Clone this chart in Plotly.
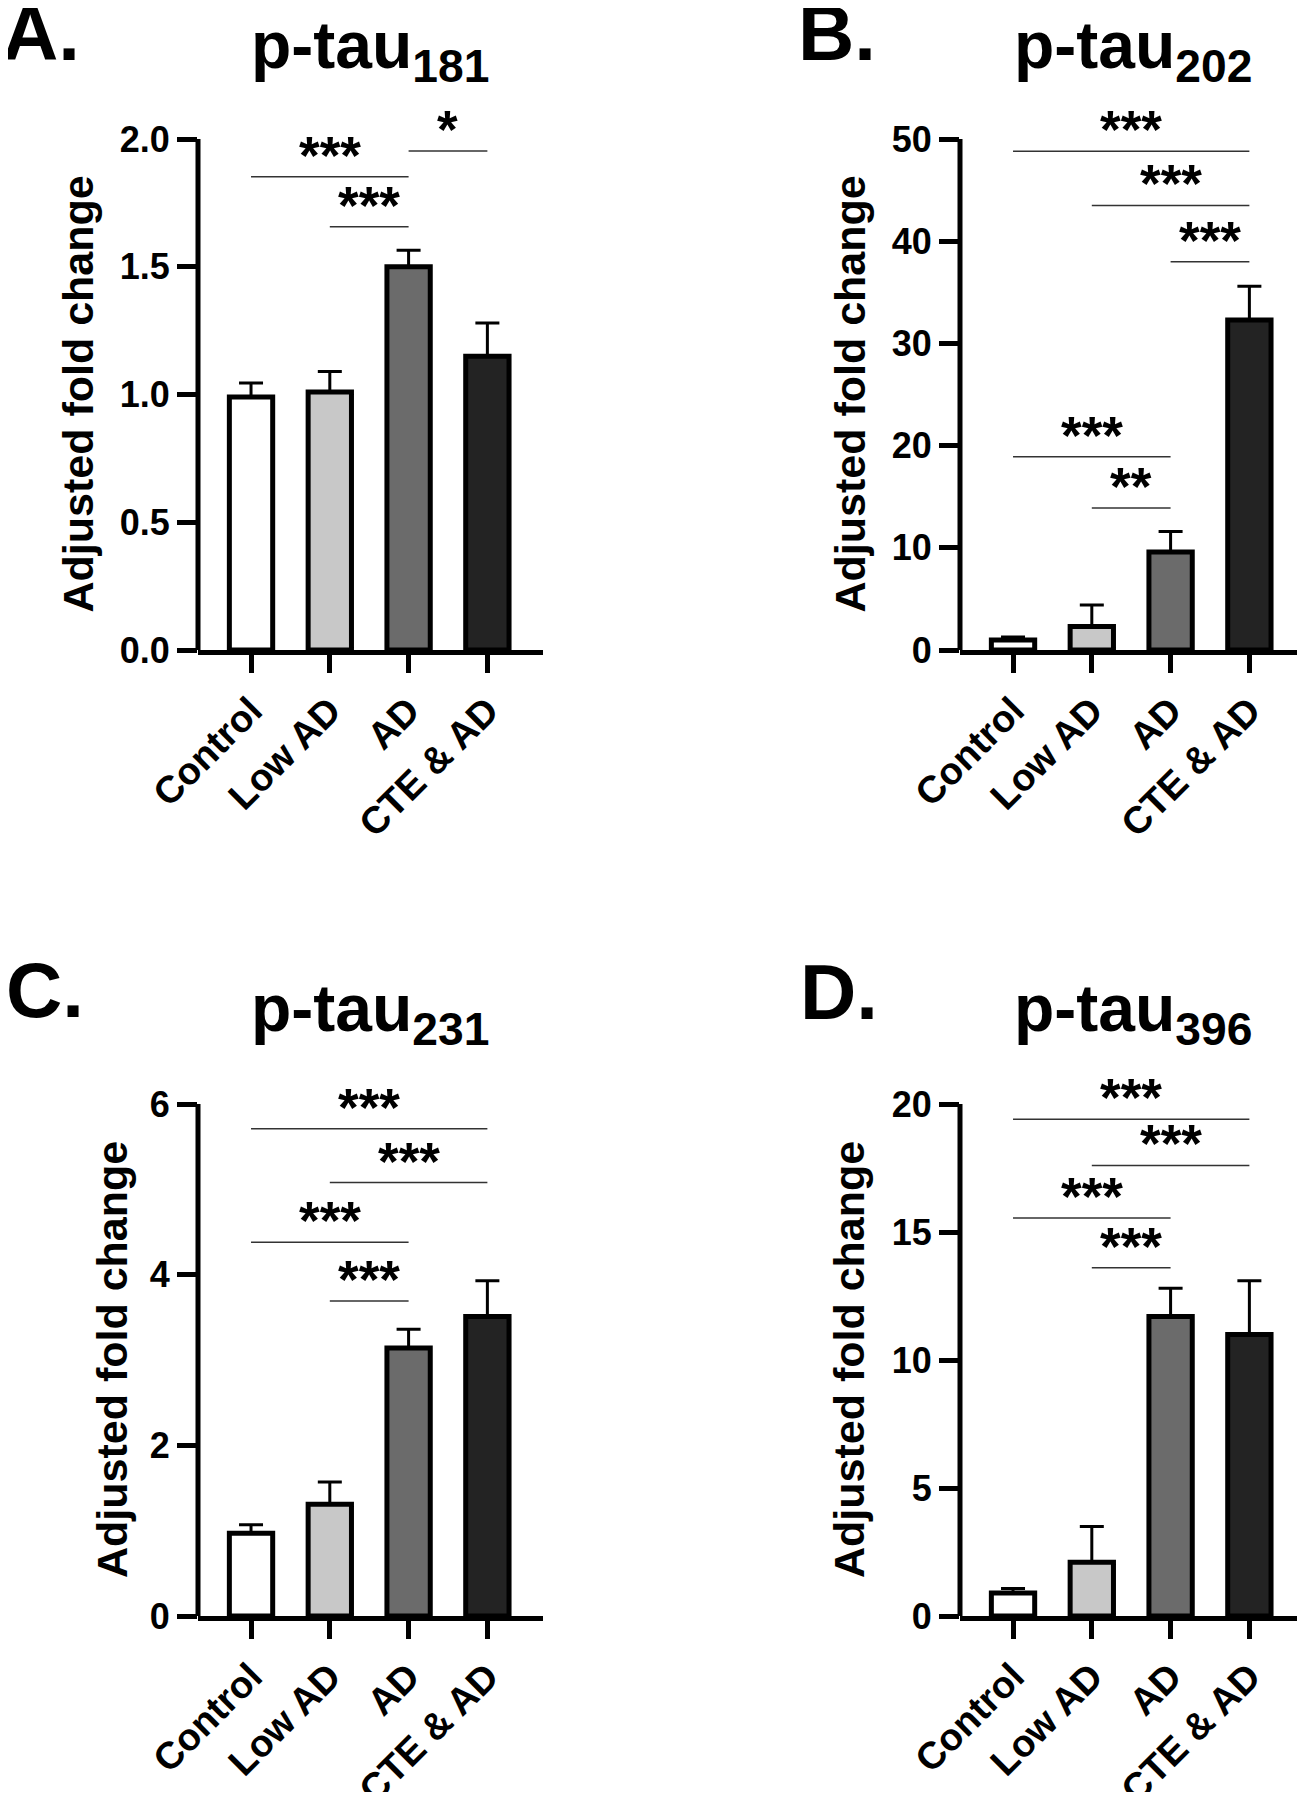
import plotly.graph_objects as go

# ---------------- data ----------------
categories = ["Control", "Low AD", "AD", "CTE & AD"]
bar_colors = ["#ffffff", "#c8c8c8", "#6b6b6b", "#232323"]

ptau181_mean = [0.99, 1.01, 1.50, 1.15]
ptau181_sem = [0.055, 0.08, 0.065, 0.13]
ptau202_mean = [0.97, 2.3, 9.6, 32.3]
ptau202_sem = [0.3, 2.1, 2.0, 3.3]
ptau231_mean = [0.97, 1.31, 3.14, 3.51]
ptau231_sem = [0.10, 0.26, 0.22, 0.42]
ptau396_mean = [0.9, 2.1, 11.7, 11.0]
ptau396_sem = [0.17, 1.4, 1.1, 2.1]

# significance brackets: (group i, group j, height, label)
sig181 = [(0, 2, 1.852, "***"), (1, 2, 1.657, "***"), (2, 3, 1.953, "*")]
sig202 = [(0, 3, 48.8, "***"), (1, 3, 43.5, "***"), (2, 3, 38.0, "***"),
          (0, 2, 18.9, "***"), (1, 2, 13.9, "**")]
sig231 = [(0, 3, 5.71, "***"), (1, 3, 5.08, "***"), (0, 2, 4.38, "***"), (1, 2, 3.69, "***")]
sig396 = [(0, 3, 19.4, "***"), (1, 3, 17.6, "***"), (0, 2, 15.55, "***"), (1, 2, 13.6, "***")]

ticks181 = [0, 0.5, 1.0, 1.5, 2.0]
ticks202 = [0, 10, 20, 30, 40, 50]
ticks231 = [0, 2, 4, 6]
ticks396 = [0, 5, 10, 15, 20]

panels = [
    dict(letter="A.", sub="181", mean=ptau181_mean, sem=ptau181_sem, sig=sig181,
         ticks=ticks181, fmt=".1f"),
    dict(letter="B.", sub="202", mean=ptau202_mean, sem=ptau202_sem, sig=sig202,
         ticks=ticks202, fmt="d"),
    dict(letter="C.", sub="231", mean=ptau231_mean, sem=ptau231_sem, sig=sig231,
         ticks=ticks231, fmt="d"),
    dict(letter="D.", sub="396", mean=ptau396_mean, sem=ptau396_sem, sig=sig396,
         ticks=ticks396, fmt="d"),
]

# ---------------- layout geometry ----------------
# positions are given in page pixels; the page body adds an 8 px margin
OFF = 8
W, H = 1305 - 2 * OFF, 1800 - 2 * OFF
FONT = "Liberation Sans, Arial, Helvetica, sans-serif"
geo = [
    dict(left=198, right=543, zero=650, toppx=139, ytitle_x=77, title_x=370, title_y=50, letter_x=0, letter_top=-13),
    dict(left=960, right=1304, zero=650, toppx=139, ytitle_x=849, title_x=1133, title_y=50, letter_x=796, letter_top=-13),
    dict(left=198, right=543, zero=1616, toppx=1104, ytitle_x=112, title_x=370, title_y=1013, letter_x=4, letter_top=944),
    dict(left=960, right=1304, zero=1616, toppx=1104, ytitle_x=849, title_x=1133, title_y=1013, letter_x=798, letter_top=946),
]
EXT = 1.15
X0 = -0.673
PPU = 345 / 4.379  # pixels per category step


def px_x(v):
    return min(max((v - OFF) / W, 0), 1)


def px_y(v):
    return 1 - (v - OFF) / H


fig = go.Figure()
layout = dict(
    width=W, height=H, autosize=False,
    margin=dict(l=0, r=0, t=0, b=0, pad=0, autoexpand=False),
    paper_bgcolor="white", plot_bgcolor="white", showlegend=False,
    font=dict(family=FONT, color="black"),
    shapes=[], annotations=[],
)

for k, (p, g) in enumerate(zip(panels, geo)):
    n = "" if k == 0 else str(k + 1)
    xa, ya = "x" + n, "y" + n
    top_tick = p["ticks"][-1]
    fig.add_trace(go.Bar(
        x=categories, y=p["mean"], xaxis=xa, yaxis=ya, width=0.55,
        marker=dict(color=bar_colors, line=dict(color="black", width=5)),
        error_y=dict(type="data", symmetric=False, array=p["sem"],
                     arrayminus=[0] * len(p["sem"]), color="black", thickness=3, width=12),
    ))
    d0, d1 = px_x(g["left"]), px_x(g["right"])
    x_right = X0 + (d1 - d0) * W / PPU
    domain_top_px = g["zero"] - (g["zero"] - g["toppx"]) * EXT
    layout["xaxis" + n] = dict(
        domain=[d0, d1], anchor=ya, type="category",
        categoryorder="array", categoryarray=categories, range=[X0, x_right], automargin=False,
        showline=True, linewidth=5, linecolor="black", showgrid=False, zeroline=False,
        ticks="outside", ticklen=18, tickwidth=5, tickcolor="black", tickangle=-45,
        tickfont=dict(size=38, family=FONT, weight="bold", color="black"),
    )
    layout["yaxis" + n] = dict(
        domain=[px_y(g["zero"]), px_y(domain_top_px)], anchor=xa, automargin=False,
        range=[0, top_tick * EXT], showline=False, showgrid=False, zeroline=False,
        tickvals=p["ticks"], tickformat=p["fmt"],
        ticks="outside", ticklen=20, tickwidth=5, tickcolor="black",
        tickfont=dict(size=36, family=FONT, weight="bold", color="black"),
    )
    # y axis line up to the top tick
    layout["shapes"].append(dict(type="line", xref=xa + " domain", yref=ya,
                                 x0=0, x1=0, y0=0, y1=top_tick,
                                 line=dict(color="black", width=5)))
    # significance brackets
    for (i, j, yv, lab) in p["sig"]:
        layout["shapes"].append(dict(type="line", xref=xa, yref=ya, x0=i, x1=j, y0=yv, y1=yv,
                                     line=dict(color="#333333", width=1.5)))
        layout["annotations"].append(dict(xref=xa, yref=ya, x=(i + j) / 2, y=yv, text=lab,
                                          showarrow=False, yanchor="bottom", yshift=-10,
                                          font=dict(size=53, family=FONT, weight="bold", color="black")))
    # y axis title
    layout["annotations"].append(dict(xref="paper", yref=ya, x=px_x(g["ytitle_x"]), y=top_tick / 2,
                                      text="Adjusted fold change", textangle=-90, showarrow=False,
                                      xanchor="center", yanchor="middle",
                                      font=dict(size=43, family=FONT, weight="bold", color="black")))
    # panel title
    layout["annotations"].append(dict(xref="paper", yref="paper", x=px_x(g["title_x"]), y=px_y(g["title_y"]),
                                      text="p-tau<sub>" + p["sub"] + "</sub>", showarrow=False,
                                      xanchor="center", yanchor="middle",
                                      font=dict(size=66, family=FONT, weight="bold", color="black")))
    # panel letter
    layout["annotations"].append(dict(xref="paper", yref="paper", x=(g["letter_x"] - OFF) / W,
                                      y=px_y(g["letter_top"]),
                                      text=p["letter"], showarrow=False,
                                      xanchor="left", yanchor="top",
                                      font=dict(size=78, family=FONT, weight="bold", color="black")))

fig.update_layout(**layout)
fig.write_html("out.html")
